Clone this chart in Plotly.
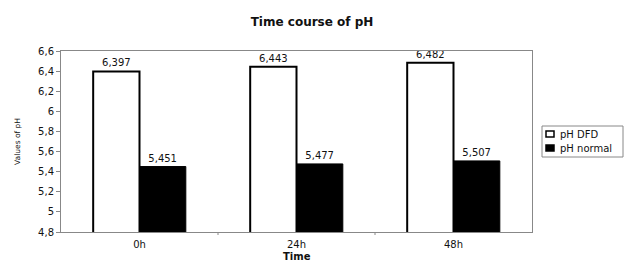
import plotly.graph_objects as go

categories = ["0h", "24h", "48h"]
series_names = ["pH DFD", "pH normal"]
ph_dfd = [6.397, 6.443, 6.482]
ph_normal = [5.451, 5.477, 5.507]
y_ticks = [4.8, 5.0, 5.2, 5.4, 5.6, 5.8, 6.0, 6.2, 6.4, 6.6]

font = "DejaVu Sans, Arial, sans-serif"
W, H = 624, 263
L, R, T, B = 61, 92, 51, 31
pw, ph = W - L - R, H - T - B


def px(x):
    return (x - L) / pw


def py(y):
    return (H - B - y) / ph


fig = go.Figure()
fig.add_trace(go.Bar(
    x=categories, y=ph_dfd, name=series_names[0],
    marker=dict(color="white", line=dict(color="black", width=2)),
    texttemplate="%{y:.3f}", textposition="outside",
    textfont=dict(size=10, color="#111", family=font), cliponaxis=False,
    showlegend=False,
))
fig.add_trace(go.Bar(
    x=categories, y=ph_normal, name=series_names[1],
    marker=dict(color="black", line=dict(color="black", width=1)),
    texttemplate="%{y:.3f}", textposition="outside",
    textfont=dict(size=10, color="#111", family=font), cliponaxis=False,
    showlegend=False,
))

fig.update_layout(
    width=W, height=H,
    margin=dict(l=L, r=R, t=T, b=B, autoexpand=False),
    paper_bgcolor="white", plot_bgcolor="white",
    separators=", ",
    barmode="group", bargap=0.41, bargroupgap=0,
    title=dict(text="<b>Time course of pH</b>", x=0.5, xanchor="center",
               y=1 - 22 / H, yanchor="middle",
               font=dict(size=12, color="#111", family=font)),
    font=dict(family=font, size=10, color="#111"),
    xaxis=dict(
        showline=True, linecolor="#888", linewidth=1, mirror=True,
        ticks="", showgrid=False, automargin=False,
        tickfont=dict(size=10),
        ticklabelstandoff=3,
    ),
    yaxis=dict(
        range=[4.8, 6.6], tickvals=y_ticks,
        tickformat="~r", automargin=False,
        showline=True, linecolor="#888", linewidth=1, mirror=True,
        ticks="outside", ticklen=4, tickcolor="#888",
        showgrid=False, zeroline=False,
        tickfont=dict(size=10),
        title=dict(text="Values of pH", font=dict(size=7.5), standoff=16),
    ),
    showlegend=False,
)

# x axis title placed near the bottom edge, as in the original
fig.add_annotation(xref="paper", yref="paper", x=0.5, y=py(256),
                   text="<b>Time</b>", showarrow=False, xanchor="center",
                   yanchor="middle", font=dict(size=10, color="#111"))

# category separator tick marks at the bottom
for xv in [0.5, 1.5]:
    fig.add_shape(type="line", xref="x", yref="paper", x0=xv, x1=xv,
                  y0=0, y1=py(H - B + 3), line=dict(color="#888", width=1))

# legend box drawn manually
fig.add_shape(type="rect", xref="paper", yref="paper",
              x0=px(542), x1=px(623), y0=py(157), y1=py(126),
              line=dict(color="#888", width=1), fillcolor="white")
legend_rows = [134, 148]
legend_fill = ["white", "black"]
for name, row, fill in zip(series_names, legend_rows, legend_fill):
    fig.add_shape(type="rect", xref="paper", yref="paper",
                  x0=px(546), x1=px(554), y0=py(row + 3), y1=py(row - 3),
                  line=dict(color="black", width=1.5), fillcolor=fill)
    fig.add_annotation(xref="paper", yref="paper", x=px(558), y=py(row),
                       text=name, showarrow=False, xanchor="left",
                       yanchor="middle", font=dict(size=10, color="#111"))

fig.write_html("out.html", config={"displayModeBar": False},
               post_script="document.body.style.margin='0';")
